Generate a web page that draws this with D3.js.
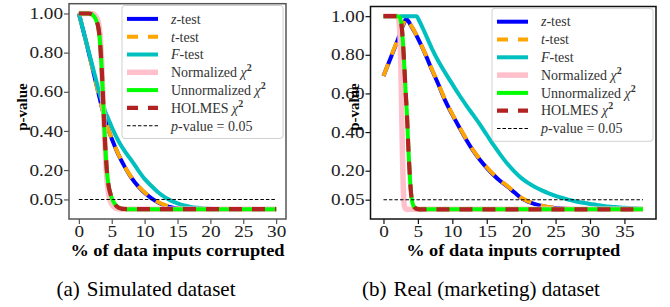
<!DOCTYPE html>
<html>
<head>
<meta charset="utf-8">
<script src="https://cdn.jsdelivr.net/npm/d3@7"></script>
<style>
  body { margin: 0; background: #fff; }
  svg { display: block; }
</style>
</head>
<body>
<div id="chart"></div>
<script>
// ---- data ----
const yTicks = [0.05, 0.2, 0.4, 0.6, 0.8, 1.0]
const simTicks = [0, 5, 10, 15, 20, 25, 30]
const realTicks = [0, 5, 10, 15, 20, 25, 30, 35]
const threshold = 0.05

const seriesNames = ["z-test", "t-test", "F-test", "Normalized", "Unnormalized", "HOLMES"]

// (a) simulated dataset: [% corrupted, p-value]
const simZ = [[0,1.0],[0.5,0.935],[1,0.87],[1.5,0.80],[2,0.73],[2.5,0.66],[3,0.59],[3.5,0.52],[4,0.46],[4.5,0.405],[5,0.36],[6,0.28],[7,0.215],[8,0.16],[9,0.118],[10,0.084],[11,0.057],[12,0.036],[13,0.02],[14,0.01],[15,0.004],[16,0.0015],[17,0.0005],[18,0],[30,0]]
const simT = [[0,1.0],[0.5,0.935],[1,0.868],[1.5,0.80],[2,0.728],[2.5,0.658],[3,0.588],[3.5,0.52],[4,0.46],[4.5,0.407],[5,0.362],[6,0.282],[7,0.217],[8,0.163],[9,0.12],[10,0.086],[11,0.059],[12,0.038],[13,0.022],[14,0.011],[15,0.005],[16,0.002],[17,0.0007],[18,0],[30,0]]
const simF = [[0,1.0],[0.5,0.935],[1,0.87],[1.5,0.805],[2,0.74],[2.5,0.675],[3,0.61],[3.5,0.555],[4,0.50],[4.5,0.46],[5,0.42],[6,0.35],[7,0.295],[8,0.25],[9,0.20],[10,0.155],[11,0.12],[12,0.088],[13,0.063],[14,0.044],[15,0.03],[16,0.019],[17,0.012],[18,0.007],[19,0.004],[20,0.002],[21,0.001],[22,0],[30,0]]
const simNorm = [[0,1],[2,1],[2.5,0.99],[3,0.95],[3.25,0.88],[3.5,0.73],[3.75,0.5],[4,0.3],[4.25,0.16],[4.5,0.085],[4.75,0.045],[5,0.025],[5.5,0.008],[6,0.002],[6.5,0],[30,0]]
const simUnnorm = [[0,1],[1,1],[1.5,1],[2,0.995],[2.5,0.975],[3,0.92],[3.25,0.84],[3.5,0.7],[3.75,0.51],[4,0.33],[4.25,0.2],[4.5,0.125],[4.75,0.085],[5,0.058],[5.5,0.025],[6,0.009],[6.5,0.003],[7,0.001],[7.5,0],[30,0]]
const simHolmes = simUnnorm.map(d => d.slice())

// (b) real (marketing) dataset
const realZ = [[0,0.69],[0.5,0.735],[1,0.78],[1.5,0.825],[2,0.87],[2.5,0.92],[3,0.965],[3.3,0.985],[3.6,0.975],[4,0.95],[4.5,0.92],[5,0.885],[6,0.81],[7,0.725],[8,0.645],[9,0.56],[10,0.49],[11,0.425],[12,0.362],[13,0.305],[14,0.257],[15,0.215],[16,0.178],[17,0.145],[18,0.118],[19,0.088],[20,0.058],[21,0.04],[22,0.027],[23,0.018],[24,0.011],[25,0.007],[26,0.004],[27,0.002],[28,0.001],[29,0],[37.7,0]]
const realT = [[0,0.69],[0.5,0.736],[1,0.782],[1.5,0.828],[2,0.874],[2.5,0.924],[3,0.97],[3.3,0.988],[3.6,0.976],[4,0.952],[4.5,0.922],[5,0.887],[6,0.812],[7,0.728],[8,0.648],[9,0.563],[10,0.493],[11,0.428],[12,0.365],[13,0.308],[14,0.26],[15,0.218],[16,0.181],[17,0.148],[18,0.121],[19,0.091],[20,0.06],[21,0.042],[22,0.029],[23,0.019],[24,0.012],[25,0.008],[26,0.005],[27,0.003],[28,0.001],[29,0],[37.7,0]]
const realF = [[0,1],[1,1],[2,1],[3,1],[4,1],[4.8,1],[5.2,0.975],[6,0.915],[7,0.835],[8,0.765],[9,0.705],[10,0.648],[11,0.592],[12,0.54],[13,0.49],[14,0.44],[15,0.386],[16,0.332],[17,0.282],[18,0.236],[19,0.197],[20,0.163],[21,0.137],[22,0.116],[23,0.098],[24,0.083],[25,0.07],[26,0.059],[27,0.049],[28,0.041],[29,0.034],[30,0.028],[31,0.023],[32,0.018],[33,0.014],[34,0.011],[35,0.008],[36,0.006],[37,0.004],[37.7,0.003]]
const realNorm = [[0,1],[2,1],[2.2,0.985],[2.4,0.9],[2.55,0.7],[2.65,0.5],[2.75,0.3],[2.85,0.14],[2.95,0.05],[3.05,0.015],[3.2,0.003],[3.4,0],[37.7,0]]
const realUnnorm = [[0,1],[1,1],[2,1],[2.3,0.995],[2.6,0.96],[2.8,0.88],[3,0.76],[3.2,0.62],[3.4,0.5],[3.6,0.33],[3.8,0.19],[4,0.085],[4.2,0.035],[4.4,0.015],[4.7,0.005],[5,0.001],[5.3,0],[37.7,0]]
const realHolmes = realUnnorm.map(d => d.slice())

// ---- styles ----
const serif = "'Liberation Serif', 'Times New Roman', serif"
const styles = [
  { color: "#0000ff", width: 4 },
  { color: "#ffa500", width: 4, dash: "13,10" },
  { color: "#00bfbf", width: 4 },
  { color: "#ffc0cb", width: 5.5 },
  { color: "#00ff00", width: 4 },
  { color: "#b22222", width: 4.2, dash: "13,10" }
]

const legendParts = [
  [{ t: "z", it: true }, { t: "-test" }],
  [{ t: "t", it: true }, { t: "-test" }],
  [{ t: "F", it: true }, { t: "-test" }],
  [{ t: "Normalized " }, { t: "χ", it: true }, { t: "2", sup: true }],
  [{ t: "Unnormalized " }, { t: "χ", it: true }, { t: "2", sup: true }],
  [{ t: "HOLMES " }, { t: "χ", it: true }, { t: "2", sup: true }],
  [{ t: "p", it: true }, { t: "-value = 0.05" }]
]

const panels = [
  { left: 69, right: 286, top: 3.7, bottom: 219, xMax: 30, ticks: simTicks, frame: "#555",
    series: [simZ, simT, simF, simNorm, simUnnorm, simHolmes],
    ylabX: 21.7, capX: 146, cap: "(a)", capText: "Simulated dataset" },
  { left: 370.5, right: 656, top: 6.5, bottom: 219, xMax: 37.7, ticks: realTicks, frame: "#111",
    series: [realZ, realT, realF, realNorm, realUnnorm, realHolmes],
    ylabX: 353.5, capX: 481, cap: "(b)", capText: "Real (marketing) dataset" }
]

const width = 670, height = 307
const svg = d3.select("#chart").append("svg")
  .attr("width", width).attr("height", height)
  .style("font-family", serif)

const tickScale = 1.2

panels.forEach(p => {
  const x = d3.scaleLinear().domain([-0.05 * p.xMax, 1.05 * p.xMax]).range([p.left, p.right])
  const y = d3.scaleLinear().domain([-0.05, 1.05]).range([p.bottom, p.top])
  const g = svg.append("g")

  // curves
  const line = d3.line().x(d => x(d[0])).y(d => y(d[1])).curve(d3.curveMonotoneX)
  p.series.forEach((s, i) => {
    const st = styles[i]
    g.append("path").datum(s)
      .attr("d", line)
      .attr("fill", "none")
      .attr("stroke", st.color)
      .attr("stroke-width", st.width)
      .attr("stroke-dasharray", st.dash || null)
  })

  // threshold line
  g.append("line")
    .attr("x1", x(0)).attr("x2", x(p.xMax))
    .attr("y1", y(threshold)).attr("y2", y(threshold))
    .attr("stroke", "#000").attr("stroke-width", 1.1)
    .attr("stroke-dasharray", "3.5,2")

  // frame
  g.append("rect")
    .attr("x", p.left).attr("y", p.top)
    .attr("width", p.right - p.left).attr("height", p.bottom - p.top)
    .attr("fill", "none").attr("stroke", p.frame).attr("stroke-width", 1.5)

  // axes
  const gx = g.append("g").attr("transform", `translate(0,${p.bottom})`)
    .call(d3.axisBottom(x).tickValues(p.ticks).tickSize(5).tickFormat(d3.format("d")))
  const gy = g.append("g").attr("transform", `translate(${p.left},0)`)
    .call(d3.axisLeft(y).tickValues(yTicks).tickSize(5).tickFormat(d3.format(".2f")))
  ;[gx, gy].forEach(a => {
    a.attr("font-family", serif).attr("font-size", 16)
    a.select(".domain").remove()
    a.selectAll(".tick line").attr("stroke", p.frame).attr("stroke-width", 1.2)
    a.selectAll("text").style("font-family", serif).style("fill", "#222")
  })
  gx.selectAll("text").attr("y", 18.3).attr("dy", 0)
    .attr("transform", `scale(${tickScale},1)`)
  gy.selectAll("text").attr("x", 0)
    .attr("transform", `translate(-6,0) scale(${tickScale},1)`)

  // axis titles
  g.append("text")
    .attr("transform", `translate(${(p.left + p.right) / 2},256) scale(1.08,1)`)
    .attr("text-anchor", "middle")
    .style("font-family", serif)
    .attr("font-size", 17).attr("font-weight", "bold")
    .text("% of data inputs corrupted")
  g.append("text")
    .attr("transform", `translate(${p.ylabX},107) rotate(-90)`)
    .attr("text-anchor", "middle").attr("dy", "0.35em")
    .style("font-family", serif)
    .attr("font-size", 15).attr("font-weight", "bold")
    .text("p-value")

  // legend
  const boxW = 161, boxH = 133
  const lg = g.append("g").attr("transform", `translate(${p.right - 3 - boxW},${p.top + 1.8})`)
  lg.append("rect")
    .attr("width", boxW).attr("height", boxH).attr("rx", 3)
    .attr("fill", "#fff").attr("fill-opacity", 0.85)
    .attr("stroke", "#d0d0d0").attr("stroke-width", 1)
  legendParts.forEach((parts, i) => {
    const ry = 13.4 + i * 17.8
    const st = styles[i]
    const h = lg.append("line").attr("x1", 5).attr("x2", 36).attr("y1", ry).attr("y2", ry)
    if (st) {
      h.attr("stroke", st.color).attr("stroke-width", st.width)
        .attr("stroke-dasharray", st.dash ? "11,10" : null)
    } else {
      h.attr("stroke", "#000").attr("stroke-width", 1.1).attr("stroke-dasharray", "3.5,2")
    }
    const t = lg.append("text").attr("x", 49).attr("y", ry + 4.8)
      .style("font-family", serif)
      .attr("font-size", 14).style("fill", "#333")
    parts.forEach(pt => {
      const ts = t.append("tspan").text(pt.t)
      if (pt.it) ts.attr("font-style", "italic")
      if (pt.sup) ts.attr("font-size", 10).attr("font-weight", "bold").attr("dy", -6)
    })
  })

  // caption
  const c = g.append("text")
    .attr("x", p.capX).attr("y", 296)
    .style("font-family", serif)
    .attr("text-anchor", "middle").attr("font-size", 21)
  c.append("tspan").text(p.cap)
  c.append("tspan").attr("dx", 7).text(p.capText)
})
</script>
</body>
</html>
